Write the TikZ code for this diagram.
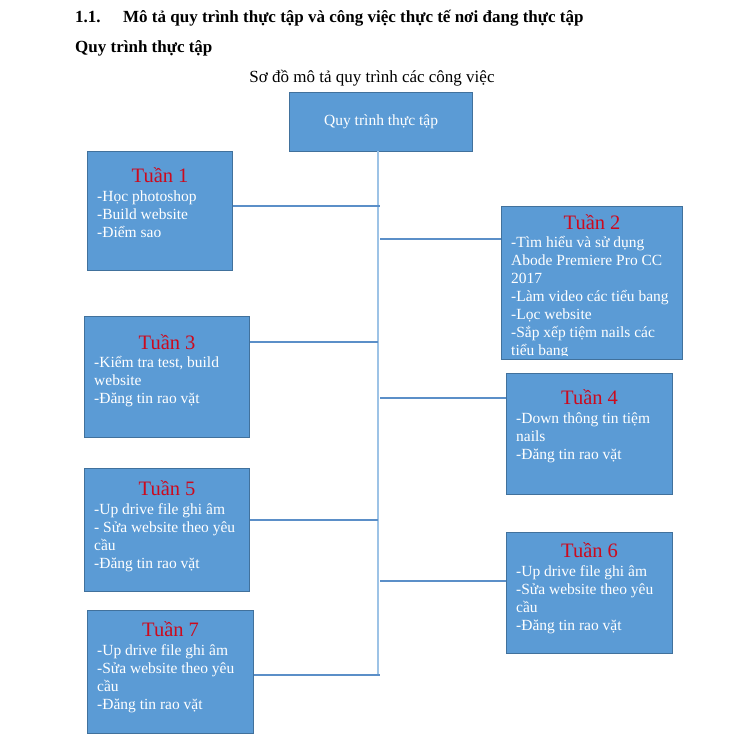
\documentclass[tikz,border=0pt]{standalone}
\usepackage{fontspec}
\setmainfont{Liberation Serif}
\definecolor{boxfill}{HTML}{5B9BD5}
\definecolor{boxline}{HTML}{41719C}
\definecolor{conn}{HTML}{5B8FC8}
\definecolor{vconn}{HTML}{9DC3E6}
\definecolor{titlered}{HTML}{CC0A1E}
\newcommand{\firstrule}{\rule{0pt}{16pt}}
\begin{document}
\begin{tikzpicture}[x=1pt,y=-1pt,
  wbox/.style={draw=boxline, line width=1.2pt, fill=boxfill, anchor=north west, inner sep=0pt},
  wtitle/.style={text=titlered, font=\fontsize{20.5}{22}\selectfont, anchor=base, inner sep=0pt},
  wbody/.style={text=white, font=\fontsize{15.5}{18}\selectfont, align=left, anchor=north west, inner sep=0pt},
  link/.style={draw=conn, line width=1.1pt},
  vlink/.style={draw=vconn, line width=1.4pt},
  headfont/.style={font=\bfseries\fontsize{17}{20}\selectfont, anchor=base west, inner sep=0pt}]
\useasboundingbox (0,0) rectangle (738,753);

% headings
\node[headfont] (hnum) at (75,22) {1.1.};
\node[headfont] (htitle) at (123,22) {Mô tả quy trình thực tập và công việc thực tế nơi đang thực tập};
\node[headfont] (hsub) at (75,52) {Quy trình thực tập};
\node[font=\fontsize{17}{20}\selectfont, anchor=base, inner sep=0pt] (caption) at (372,82) {Sơ đồ mô tả quy trình các công việc};

% root
\node[wbox, minimum width=183pt, minimum height=59pt] (root) at (289,92) {};
\node[text=white, font=\fontsize{15.5}{18}\selectfont, inner sep=0pt] (roottext) at (root.center) {Quy trình thực tập};

% boxes
\node[wbox, minimum width=145pt, minimum height=119pt] (b1) at (87,151) {};
\node[wbox, minimum width=181pt, minimum height=153pt] (b2) at (501,206) {};
\node[wbox, minimum width=165pt, minimum height=121pt] (b3) at (84,316) {};
\node[wbox, minimum width=166pt, minimum height=121pt] (b4) at (506,373) {};
\node[wbox, minimum width=165pt, minimum height=123pt] (b5) at (84,468) {};
\node[wbox, minimum width=166pt, minimum height=121pt] (b6) at (506,532) {};
\node[wbox, minimum width=166pt, minimum height=123pt] (b7) at (87,610) {};

% titles
\node[wtitle] (t1) at (b1.center |- 0,182) {Tuần 1};
\node[wtitle] (t2) at (b2.center |- 0,229) {Tuần 2};
\node[wtitle] (t3) at (b3.center |- 0,349) {Tuần 3};
\node[wtitle] (t4) at (b4.center |- 0,404) {Tuần 4};
\node[wtitle] (t5) at (b5.center |- 0,495) {Tuần 5};
\node[wtitle] (t6) at (b6.center |- 0,557) {Tuần 6};
\node[wtitle] (t7) at (b7.center |- 0,636) {Tuần 7};

% bodies (first baseline = given y + 16)
\node[wbody] (x1) at (97,185) {\firstrule-Học photoshop\\-Build website\\-Điểm sao};
\begin{scope}
  \clip ([shift={(1,1)}]b2.north west) rectangle ([shift={(-1,-5)}]b2.south east);
  \node[wbody] (x2) at (511,231) {\firstrule-Tìm hiểu và sử dụng\\Abode Premiere Pro CC\\2017\\-Làm video các tiểu bang\\-Lọc website\\-Sắp xếp tiệm nails các\\tiểu bang};
\end{scope}
\node[wbody] (x3) at (94,351) {\firstrule-Kiểm tra test, build\\website\\-Đăng tin rao vặt};
\node[wbody] (x4) at (516,407) {\firstrule-Down thông tin tiệm\\nails\\-Đăng tin rao vặt};
\node[wbody] (x5) at (94,498) {\firstrule-Up drive file ghi âm\\- Sửa website theo yêu\\cầu\\-Đăng tin rao vặt};
\node[wbody] (x6) at (516,560) {\firstrule-Up drive file ghi âm\\-Sửa website theo yêu\\cầu\\-Đăng tin rao vặt};
\node[wbody] (x7) at (97,639) {\firstrule-Up drive file ghi âm\\-Sửa website theo yêu\\cầu\\-Đăng tin rao vặt};

% connectors
\coordinate (vtop) at (378,151);
\coordinate (vbot) at (378,675);
\coordinate (j1) at (380,206);
\coordinate (j2) at (380,239);
\coordinate (j3) at (378,342);
\coordinate (j4) at (380,398);
\coordinate (j5) at (378,520);
\coordinate (j6) at (380,581);
\coordinate (j7) at (380,675);
\draw[vlink] (vtop) -- (vbot);
\draw[link] (b1.east |- j1) -- (j1);
\draw[link] (j2) -- (b2.west |- j2);
\draw[link] (b3.east |- j3) -- (j3);
\draw[link] (j4) -- (b4.west |- j4);
\draw[link] (b5.east |- j5) -- (j5);
\draw[link] (j6) -- (b6.west |- j6);
\draw[link] (b7.east |- j7) -- (j7);
\end{tikzpicture}
\end{document}
